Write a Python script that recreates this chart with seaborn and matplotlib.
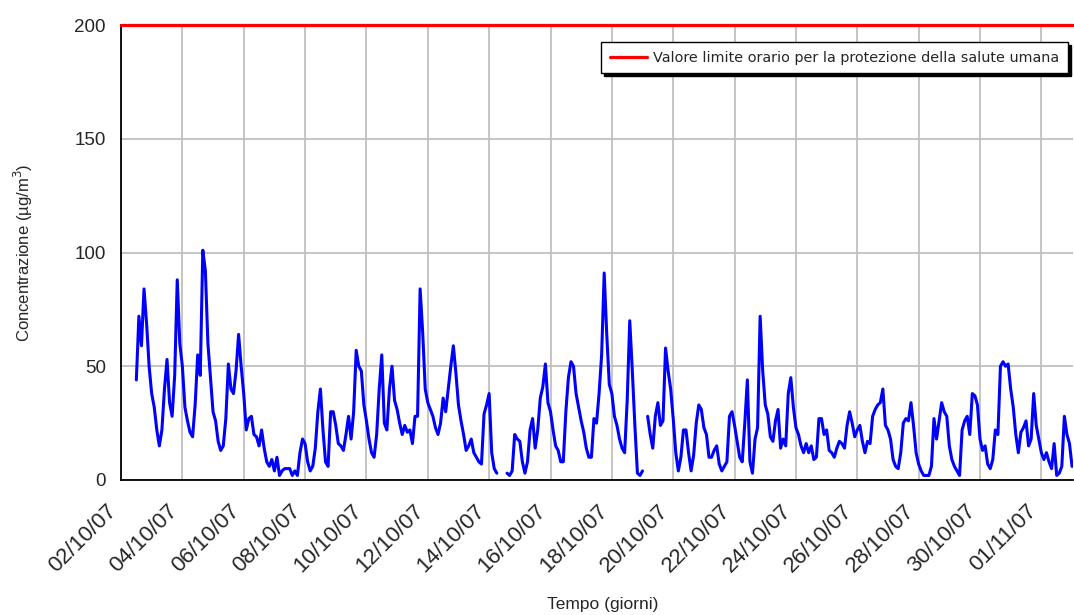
import numpy as np
import pandas as pd
import matplotlib
matplotlib.use("Agg")
import matplotlib.pyplot as plt
import matplotlib.dates as mdates
from matplotlib.ticker import MultipleLocator, FixedLocator
from matplotlib.transforms import ScaledTranslation
import seaborn as sns

# dati orari ricampionati ogni 2 ore, a partire dal 02/10/07 12:00
START = "2007-10-02 12:00"
STEP = "2h"
LIMITE = 200
nan = np.nan

# 02/10 12h -> 07/10 04h
conc_a = [44, 72, 59, 84, 69, 50, 38, 32, 22, 15, 22, 40, 53, 34, 28, 46, 88, 60, 50, 32,
          26, 21, 19, 33, 55, 46, 101, 92, 60, 45, 30, 26, 17, 13, 15, 27, 51, 40, 38, 48,
          64, 50, 38, 22, 27, 28, 20, 19, 15, 22, 14, 8, 6, 9, 4, 10, 2]
# 07/10 06h -> 12/10 10h
conc_b = [4, 5, 5, 5, 2, 4, 2, 12, 18, 16, 8, 4, 6, 14, 30, 40, 22, 8, 6, 30,
          30, 24, 16, 15, 13, 20, 28, 18, 30, 57, 50, 48, 33, 26, 18, 12, 10, 20, 40, 55,
          25, 22, 40, 50, 35, 31, 25, 20, 24, 21, 22, 16, 28, 28, 84, 65, 40, 34, 31, 28,
          23, 20, 25]
# 12/10 12h -> 17/10 14h
conc_c = [36, 30, 40, 50, 59, 47, 33, 26, 20, 13, 15, 18, 12, 10, 8, 7, 29, 33, 38, 12,
          5, 3, nan, nan, nan, 3, 2, 4, 20, 18, 17, 8, 3, 8, 22, 27, 14, 22, 36, 41,
          51, 34, 30, 22, 15, 13, 8, 8, 30, 45, 52, 50, 38, 32, 26, 21, 14, 10, 10, 27,
          25, 38]
# 17/10 16h -> 22/10 20h
conc_d = [55, 91, 64, 42, 38, 28, 24, 18, 14, 12, 35, 70, 48, 24, 3, 2, 4, nan, 28, 20,
          14, 28, 34, 24, 26, 58, 48, 40, 27, 12, 4, 10, 22, 22, 12, 4, 11, 25, 33, 31,
          23, 20, 10, 10, 13, 15, 7, 4, 6, 8, 28, 30, 24, 17, 10, 8, 25, 44, 8, 3,
          18, 23, 72]
# 22/10 22h -> 28/10 00h
conc_e = [48, 33, 29, 19, 17, 26, 31, 14, 18, 15, 38, 45, 32, 23, 20, 15, 12, 16, 12, 15,
          9, 10, 27, 27, 20, 22, 13, 12, 10, 14, 17, 16, 14, 24, 30, 25, 19, 22, 24, 17,
          12, 17, 16, 28, 31, 33, 34, 40, 24, 22, 18, 9, 6, 5, 12, 25, 27, 26, 34, 24,
          12, 7]
# 28/10 02h -> 02/11 00h
conc_f = [4, 2, 2, 2, 6, 27, 18, 26, 34, 30, 28, 15, 9, 6, 4, 2, 22, 26, 28, 20,
          38, 37, 33, 18, 13, 15, 7, 5, 9, 22, 20, 50, 52, 50, 51, 40, 32, 20, 12, 21,
          23, 26, 15, 18, 38, 24, 18, 12, 9, 12, 8, 5, 16, 2, 3, 6, 28, 20, 16, 6]

conc = conc_a + conc_b + conc_c + conc_d + conc_e + conc_f
tempo = pd.date_range(START, periods=len(conc), freq=STEP)

df = pd.DataFrame({"tempo": tempo, "conc": conc})
df["tratto"] = df["conc"].isna().cumsum()
df = df.dropna()

sns.set_style("white")
plt.rcParams["font.family"] = ["Liberation Sans", "DejaVu Sans"]

fig = plt.figure(figsize=(10.74, 6.15), dpi=100)
ax = fig.add_axes([121 / 1074, 1 - 480 / 615, (1073 - 121) / 1074, (480 - 25) / 615])

sns.lineplot(data=df, x="tempo", y="conc", units="tratto", estimator=None,
             color="#0000FF", lw=2.2, ax=ax, legend=False, zorder=3)
lim = ax.axhline(LIMITE, color="#FF0000", lw=2.3, clip_on=False, zorder=4,
                 label="Valore limite orario per la protezione della salute umana")

# assi
ax.set_ylim(0, 200)
ax.set_yticks([0, 50, 100, 150, 200])
ax.yaxis.set_minor_locator(MultipleLocator(25))
ax.set_xlim(pd.Timestamp("2007-10-02"), tempo[-1] + pd.Timedelta("45min"))
major = pd.date_range("2007-10-02", "2007-11-01", freq="2D")
ax.xaxis.set_major_locator(FixedLocator(mdates.date2num(major)))
ax.xaxis.set_minor_locator(mdates.DayLocator())
ax.xaxis.set_major_formatter(mdates.DateFormatter("%d/%m/%y"))

ax.grid(which="major", color="#C0C0C0", lw=1.3)
ax.set_axisbelow(True)
for s in ["top", "right"]:
    ax.spines[s].set_visible(False)
for s in ["left", "bottom"]:
    ax.spines[s].set_color("black")
    ax.spines[s].set_linewidth(1.3)

ax.tick_params(axis="y", which="major", direction="out", length=5, width=1,
               labelsize=13.5, pad=6)
ax.tick_params(axis="y", which="minor", direction="in", length=5, width=1)
ax.tick_params(axis="x", which="both", direction="out", length=4, width=1)
ax.tick_params(axis="x", which="major", labelsize=16, pad=11)
sposta = ScaledTranslation(-15 / 100, 0, fig.dpi_scale_trans)
for lab in ax.get_xticklabels():
    lab.set_rotation(45)
    lab.set_ha("right")
    lab.set_rotation_mode("anchor")
    lab.set_transform(lab.get_transform() + sposta)

ax.set_xlabel("")
ax.set_ylabel("Concentrazione (µg/m$^3$)", fontsize=12)
ax.yaxis.set_label_coords(-0.090, 0.5)
fig.text(603 / 1074, 1 - 605 / 615, "Tempo (giorni)", ha="center", va="center", fontsize=12.5)

leg = ax.legend(handles=[lim], loc="upper right", bbox_to_anchor=(0.9947, 0.9626),
                borderaxespad=0, fancybox=False, handlelength=2.6, handletextpad=0.4,
                borderpad=0.6, prop={"family": "DejaVu Sans", "size": 10.4},
                shadow={"color": "black", "alpha": 1})
leg.get_frame().set_edgecolor("black")
leg.get_frame().set_linewidth(1)

fig.savefig("out.png", dpi=100)
